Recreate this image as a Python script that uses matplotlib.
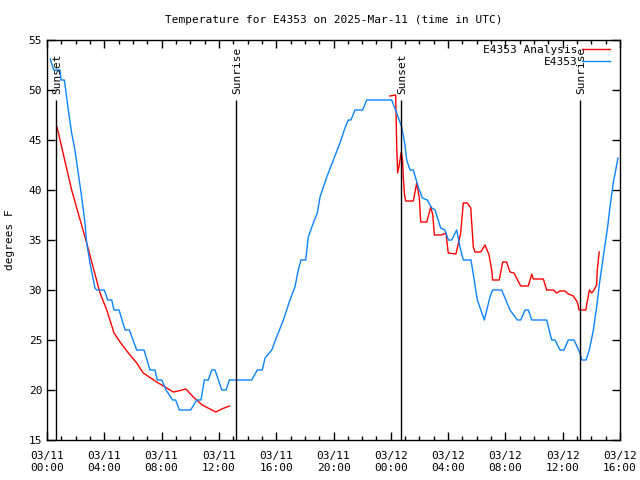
import matplotlib
matplotlib.use("Agg")
import matplotlib.pyplot as plt
import numpy as np

plt.rcParams['font.family'] = ['DejaVu Sans Mono']

# hours since 2025-03-11 00:00 UTC
obs_h = [0.23, 0.47, 0.91, 0.98, 1.21, 1.49, 1.72, 1.95, 2.18, 2.42, 2.65, 2.77, 3.00, 3.35, 3.47, 4.00,
         4.24, 4.52, 4.68, 5.03, 5.45, 5.75, 6.26, 6.77, 7.19, 7.54, 7.70, 8.01, 8.31, 8.77, 8.98, 9.24,
         10.03, 10.45, 10.75, 10.98, 11.26, 11.50, 11.73, 12.20, 12.50, 12.73, 14.29, 14.68, 15.03, 15.22,
         15.69, 16.03, 16.50, 16.96, 17.31, 17.54, 17.73, 18.06, 18.24, 18.59, 18.87, 19.06, 19.53, 19.99,
         20.45, 20.80, 21.03, 21.22, 21.50, 22.04, 22.32, 24.06, 24.41, 24.76, 24.99, 25.11, 25.34, 25.57,
         25.92, 26.20, 26.55, 26.86, 27.09, 27.48, 27.78, 28.02, 28.25, 28.60, 28.83, 29.06, 29.60, 30.04,
         30.53, 30.92, 31.11, 31.74, 32.32, 32.83, 33.07, 33.37, 33.60, 33.84, 34.88, 35.23, 35.46, 35.81,
         36.09, 36.39, 36.79, 37.21, 37.33, 37.63, 37.86, 38.14, 38.37, 38.60, 38.87, 39.11, 39.30, 39.53,
         39.86]
obs_t = [53.1, 52, 52, 51, 51, 48, 45.7, 44, 41.7, 39.3, 36.7, 34.7, 32.7, 30.2, 30, 30,
         29, 29, 28, 28, 26, 26, 24, 24, 22, 22, 21, 21, 20, 19, 19, 18,
         18, 19, 19, 21, 21, 22, 22, 20, 20, 21, 21, 22, 22, 23.2,
         24, 25.3, 27, 29, 30.3, 32, 33, 33, 35.3, 36.7, 37.7, 39.3, 41.3, 43,
         44.7, 46.2, 47, 47, 48, 48, 49, 49, 47.7, 46.3, 44.5, 43, 42, 42,
         40.3, 39.2, 39, 38.2, 38, 36.2, 36, 35, 35, 36, 34.3, 33, 33, 29,
         27, 29.3, 30, 30, 28, 27, 27, 28, 28, 27, 27, 25, 25, 24,
         24, 25, 25, 23.7, 23, 23, 24, 26, 28.3, 31, 33.7, 36, 38.3, 40.7,
         43.2]

ana1_h = [0.70, 1.72, 2.77, 3.70, 4.17, 4.68, 5.10, 5.68, 6.26, 6.72, 7.66, 8.36, 8.82, 9.17, 9.70,
          10.21, 10.84, 11.38, 11.78, 12.20, 12.73]
ana1_t = [46.3, 40.0, 34.7, 29.7, 28, 25.7, 24.8, 23.7, 22.7, 21.7, 20.8, 20.2, 19.8, 19.9, 20.1,
          19.3, 18.5, 18.1, 17.8, 18.1, 18.4]

ana2_h = [23.94, 24.34, 24.41, 24.48, 24.59, 24.73, 24.82, 24.87, 24.96, 25.04, 25.57, 25.81, 25.99,
          26.09, 26.51, 26.79, 26.93, 27.04, 27.55, 27.85, 28.01, 28.55, 28.88, 29.06, 29.34, 29.58,
          29.76, 29.88, 30.28, 30.58, 30.86, 31.04, 31.11, 31.57, 31.81, 32.08, 32.32, 32.60, 33.07,
          33.60, 33.84, 33.95, 34.65, 34.88, 35.35, 35.58, 35.81, 36.16, 36.39, 36.74, 37.02, 37.14,
          37.61, 37.86, 38.02, 38.18, 38.37, 38.41, 38.55]
ana2_t = [49.4, 49.5, 44.5, 41.7, 42.5, 43.8, 43, 41.3, 39.5, 38.9, 38.9, 40.7, 39.2,
          36.8, 36.8, 38.3, 37.5, 35.5, 35.5, 35.7, 33.7, 33.6, 35.7, 38.7, 38.7, 38.2,
          34.3, 33.8, 33.8, 34.5, 33.5, 32, 31, 31, 32.8, 32.8, 31.8, 31.7, 30.4,
          30.4, 31.6, 31.1, 31.1, 30, 30, 29.7, 29.9, 29.9, 29.6, 29.4, 28.8, 28,
          28, 30, 29.7, 30, 30.5, 32, 33.8]

sun_h = [0.63, 13.19, 24.71, 37.2]
sun_labels = ["Sunset", "Sunrise", "Sunset", "Sunrise"]

tick_h = [0, 4, 8, 12, 16, 20, 24, 28, 32, 36, 40]
tick_labels = ["03/11\n00:00", "03/11\n04:00", "03/11\n08:00", "03/11\n12:00", "03/11\n16:00",
               "03/11\n20:00", "03/12\n00:00", "03/12\n04:00", "03/12\n08:00", "03/12\n12:00",
               "03/12\n16:00"]

RED = '#ff0000'
BLUE = '#0a84ff'

fig = plt.figure(figsize=(6.4, 4.8), dpi=100)
ax = fig.add_axes([47/640, 1-440/480, (620-47)/640, 400/480])

ana_h = ana1_h + [np.nan] + ana2_h
ana_t = ana1_t + [np.nan] + ana2_t
ax.plot(ana_h, ana_t, color=RED, lw=1, label='E4353 Analysis')
ax.plot(obs_h, obs_t, color=BLUE, lw=1, label='E4353')

for h, lab in zip(sun_h, sun_labels):
    ax.vlines(h, 15, 49, color='black', lw=1)
    ax.text(h + 0.08, 49.6, lab, rotation=90, ha='center', va='bottom', fontsize=8)

ax.set_xlim(0, 40)
ax.set_ylim(15, 55)
ax.set_xticks(tick_h)
ax.set_xticklabels(tick_labels, fontsize=8)
ax.set_xticks(np.arange(0, 41, 1), minor=True)
ax.set_yticks(np.arange(15, 56, 5))
ax.tick_params(axis='y', labelsize=8)
ax.tick_params(which='major', direction='in', length=6, top=True, right=True, width=1)
ax.tick_params(which='minor', direction='in', length=3, top=True, right=False, width=1)
ax.tick_params(axis='y', which='minor', left=False, right=False)
ax.tick_params(axis='x', which='major', pad=8)
ax.set_ylabel('degrees F', fontsize=8, labelpad=10)
for s in ax.spines.values():
    s.set_linewidth(1)

ax.set_title('Temperature for E4353 on 2025-Mar-11 (time in UTC)', fontsize=8, pad=12)

ax.legend(loc='upper right', bbox_to_anchor=(0.991, 1.0), frameon=False, markerfirst=False,
          fontsize=8, handlelength=2.5, handletextpad=0.4, labelspacing=0.2,
          borderaxespad=0.1, borderpad=0.35)

fig.savefig('out.png', dpi=100)
